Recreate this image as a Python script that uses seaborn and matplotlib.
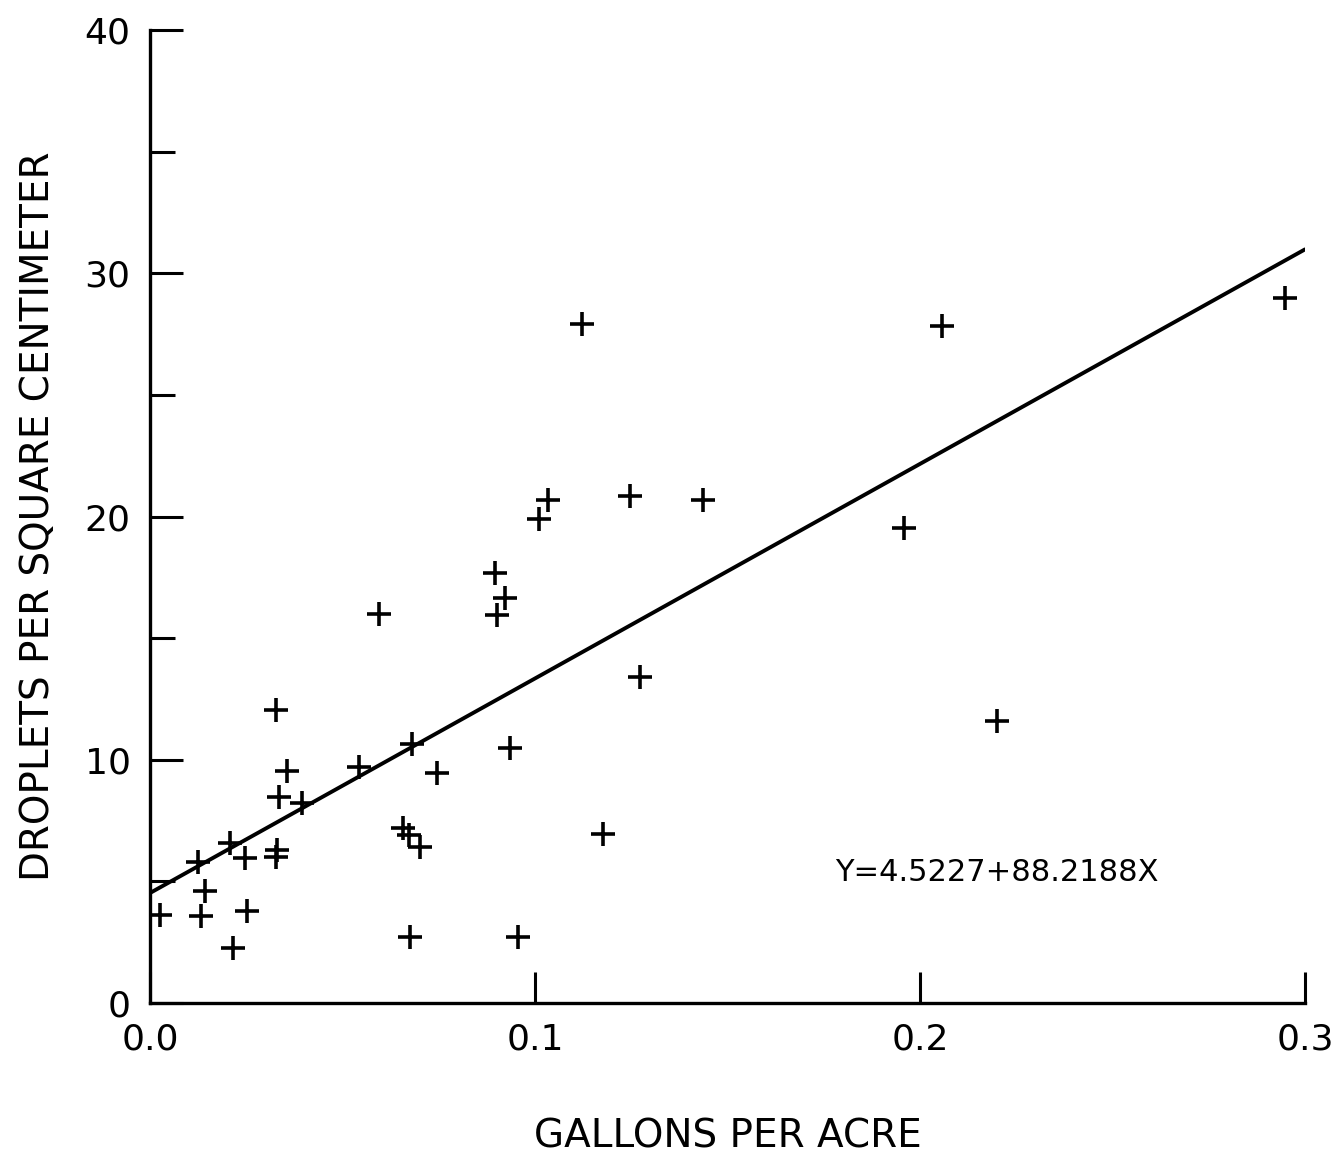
import matplotlib
matplotlib.use("Agg")
import matplotlib.pyplot as plt
import seaborn as sns
import numpy as np
import pandas as pd
from matplotlib.ticker import MultipleLocator

# gallons per acre vs droplets per square centimeter
gallons = [0.0026, 0.0125, 0.0143, 0.0132, 0.0208, 0.0216, 0.0247, 0.0252,
           0.0327, 0.0335, 0.0330, 0.0327, 0.0356, 0.0395, 0.0543, 0.0595,
           0.0657, 0.0673, 0.0681, 0.0675, 0.0701, 0.0745, 0.0896, 0.0901,
           0.0922, 0.0935, 0.0956, 0.1010, 0.1034, 0.1122, 0.1177, 0.1247,
           0.1273, 0.1436, 0.1958, 0.2057, 0.2200, 0.2948]
droplets = [3.62, 5.80, 4.61, 3.58, 6.58, 2.26, 5.97, 3.79,
            12.06, 8.48, 6.30, 6.00, 9.55, 8.23, 9.71, 16.0,
            7.20, 6.91, 10.66, 2.72, 6.42, 9.47, 17.7, 15.95,
            16.67, 10.49, 2.72, 19.9, 20.7, 27.94, 6.95, 20.86,
            13.4, 20.7, 19.55, 27.82, 11.6, 28.97]

intercept = 4.5227
slope = 88.2188
fit_x = [0.0, 0.3]
equation = "Y=4.5227+88.2188X"

df = pd.DataFrame({"gpa": gallons, "dpc": droplets})
fit = pd.DataFrame({"x": fit_x})
fit["y"] = intercept + slope * fit["x"]

sns.set_style("white")
plt.rcParams["font.family"] = ["DejaVu Sans"]

fig = plt.figure(figsize=(13.42, 11.63), dpi=100)
ax = fig.add_axes([0.1118, 0.1376, 0.8606, 0.8364])

sns.scatterplot(data=df, x="gpa", y="dpc", marker="+", s=300,
                color="black", linewidth=2.6, ax=ax)
sns.lineplot(data=fit, x="x", y="y", color="black", linewidth=2.8, ax=ax)

ax.set_xlim(0, 0.3)
ax.set_ylim(0, 40)
ax.set_xticks([0.0, 0.1, 0.2, 0.3])
ax.set_xticklabels(["0.0", "0.1", "0.2", "0.3"])
ax.set_yticks([0, 10, 20, 30, 40])
ax.yaxis.set_minor_locator(MultipleLocator(5))

sns.despine(ax=ax)
for sp in ["left", "bottom"]:
    ax.spines[sp].set_linewidth(2.4)
    ax.spines[sp].set_color("black")

ax.tick_params(axis="both", which="both", bottom=True, left=True)
ax.tick_params(axis="both", which="major", direction="in", length=22,
               width=2.2, colors="black", labelsize=26)
ax.tick_params(axis="y", which="major", length=24, pad=14)
ax.tick_params(axis="x", which="major", pad=14)
ax.tick_params(axis="y", which="minor", direction="in", length=18, width=2.2,
               colors="black")
ax.tick_params(axis="x", which="minor", bottom=False)

ax.text(0.178, 5.0, equation, fontsize=22, color="black")

ax.set_xlabel("GALLONS PER ACRE", fontsize=28, labelpad=44, color="black")
ax.set_ylabel("DROPLETS PER SQUARE CENTIMETER", fontsize=28, labelpad=20,
              color="black")

fig.savefig("out.png", dpi=100, facecolor="white")
